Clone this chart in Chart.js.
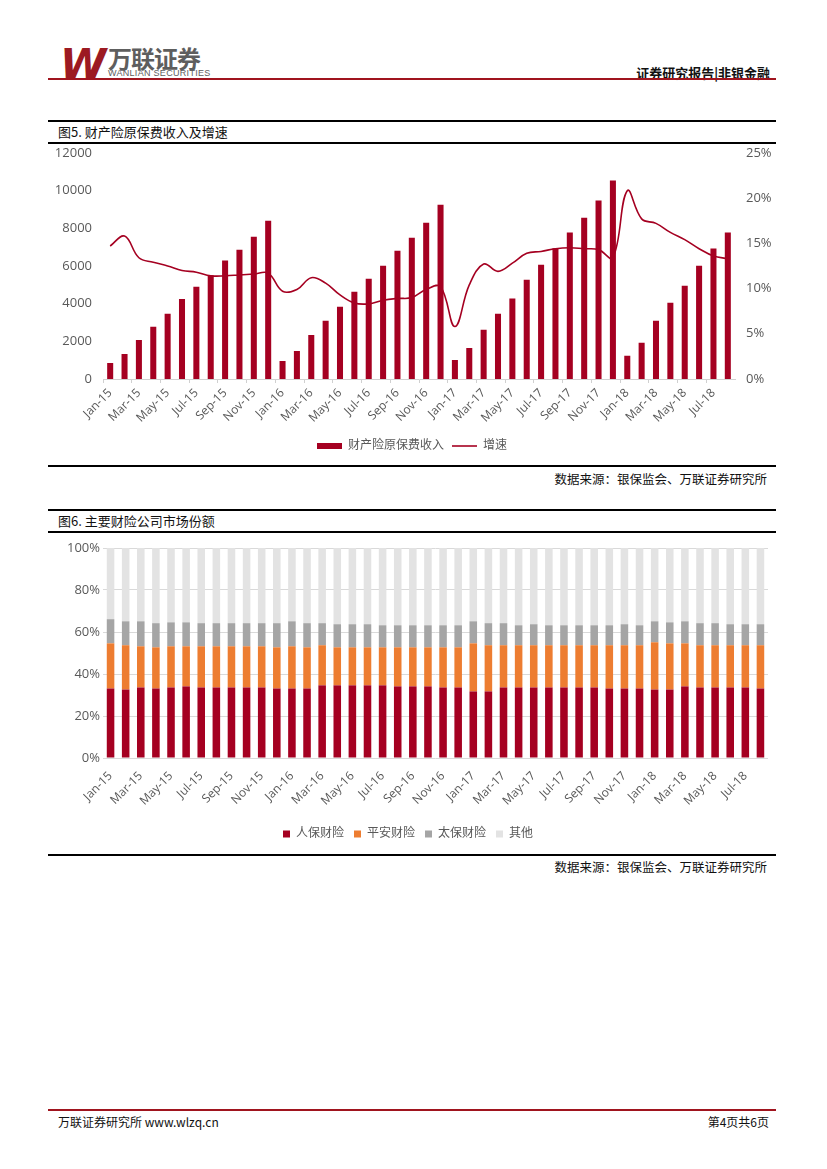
<!DOCTYPE html>
<html lang="zh">
<head>
    <meta charset="UTF-8">
    <title>财产险原保费收入及增速</title>
    <style>
        body {
            margin: 0;
            background: #fff;
            font-family: "Noto Sans CJK SC", sans-serif;
        }
        .page { position: relative; width: 827px; height: 1169px; }
        .abs { position: absolute; line-height: 1; }
        .rule { position: absolute; left: 48px; width: 728px; background: #000; }
        .title { position: absolute; left: 58px; font-size: 13px; color: #111; line-height: 14px; }
        .source { position: absolute; right: 60px; font-size: 12.5px; color: #111; }
        .chartbox { position: absolute; left: 48px; width: 728px; }
    </style>
    <script src="https://cdn.jsdelivr.net/npm/chart.js"></script>
</head>
<body>
<div class="page">
    <!-- header -->
    <div class="abs" style="left:60px;top:40px;font:italic 900 42px 'DejaVu Sans';color:#9c1a22;letter-spacing:-6px;">W</div>
    <div class="abs" style="left:108px;top:40px;font:bold 24px 'Noto Sans CJK SC';color:#5e5e5e;letter-spacing:-1px;">万联证券</div>
    <div class="abs" style="left:108px;top:68px;font:9px 'Liberation Sans';color:#5e5e5e;letter-spacing:0.3px;">WANLIAN SECURITIES</div>
    <div class="abs" style="right:57px;top:63px;font:bold 13px 'Noto Sans CJK SC';color:#111;">证券研究报告|非银金融</div>
    <div class="abs" style="left:48px;top:78px;width:728px;height:2px;background:#a0141e;"></div>

    <!-- figure 5 -->
    <div class="rule" style="top:120px;height:2px;"></div>
    <div class="title" style="top:125px;">图5. 财产险原保费收入及增速</div>
    <div class="rule" style="top:142px;height:2px;"></div>
    <div class="chartbox" style="top:142px;height:324px;"><canvas id="premiumChart"></canvas></div>
    <div class="rule" style="top:465px;height:2px;"></div>
    <div class="source" style="top:469px;">数据来源：银保监会、万联证券研究所</div>

    <!-- figure 6 -->
    <div class="rule" style="top:509px;height:2px;"></div>
    <div class="title" style="top:514px;">图6. 主要财险公司市场份额</div>
    <div class="rule" style="top:531px;height:2px;"></div>
    <div class="chartbox" style="top:536px;height:318px;"><canvas id="shareChart"></canvas></div>
    <div class="rule" style="top:854px;height:2px;"></div>
    <div class="source" style="top:857px;">数据来源：银保监会、万联证券研究所</div>

    <!-- footer -->
    <div class="abs" style="left:48px;top:1109px;width:728px;height:2px;background:#a0141e;"></div>
    <div class="abs" style="left:58px;top:1116px;font-size:12px;color:#111;">万联证券研究所 www.wlzq.cn</div>
    <div class="abs" style="right:58px;top:1116px;font-size:12px;color:#111;">第4页共6页</div>
</div>

<script>
    const months = [
        'Jan-15', 'Feb-15', 'Mar-15', 'Apr-15', 'May-15', 'Jun-15', 'Jul-15', 'Aug-15', 'Sep-15', 'Oct-15', 'Nov-15', 'Dec-15',
        'Jan-16', 'Feb-16', 'Mar-16', 'Apr-16', 'May-16', 'Jun-16', 'Jul-16', 'Aug-16', 'Sep-16', 'Oct-16', 'Nov-16', 'Dec-16',
        'Jan-17', 'Feb-17', 'Mar-17', 'Apr-17', 'May-17', 'Jun-17', 'Jul-17', 'Aug-17', 'Sep-17', 'Oct-17', 'Nov-17', 'Dec-17',
        'Jan-18', 'Feb-18', 'Mar-18', 'Apr-18', 'May-18', 'Jun-18', 'Jul-18', 'Aug-18'
    ];

    // 财产险原保费收入 (亿元, 累计)
    const premium = [
        850, 1330, 2070, 2770, 3460, 4250, 4890, 5510, 6280, 6860, 7550, 8400,
        960, 1490, 2340, 3090, 3830, 4630, 5320, 6010, 6810, 7500, 8290, 9250,
        1010, 1650, 2610, 3460, 4270, 5270, 6060, 6930, 7770, 8560, 9470, 10530,
        1240, 1920, 3090, 4040, 4950, 6010, 6920, 7770
    ];

    // 增速 (%)
    const growth = [
        14.7, 15.8, 13.4, 12.9, 12.5, 12.0, 11.8, 11.4, 11.4, 11.5, 11.6, 11.7,
        9.7, 9.9, 11.2, 10.6, 9.3, 8.4, 8.3, 8.7, 8.9, 9.0, 9.9, 10.2,
        5.8, 10.4, 12.7, 11.9, 12.8, 13.9, 14.1, 14.4, 14.5, 14.4, 14.3, 13.4,
        20.8, 17.7, 17.2, 16.2, 15.4, 14.4, 13.6, 13.3
    ];

    // 市场份额 (%)
    const picc = [
        33.1, 32.6, 33.6, 33.1, 33.6, 34.1, 33.6, 33.6, 33.6, 33.6, 33.6, 33.1,
        33.1, 33.1, 34.6, 34.6, 34.6, 34.6, 34.6, 34.1, 34.1, 34.1, 33.6, 33.6,
        31.7, 31.7, 33.6, 33.6, 33.6, 33.6, 33.6, 33.6, 33.6, 33.1, 33.1, 33.1,
        32.6, 32.6, 34.1, 33.6, 33.6, 33.6, 33.6, 33.1
    ];
    const pingan = [
        21.5, 21.1, 19.6, 19.6, 19.6, 19.1, 19.6, 19.6, 19.6, 19.6, 19.6, 19.6,
        20.1, 19.6, 19.1, 18.1, 18.1, 18.1, 18.1, 18.6, 18.6, 18.6, 19.1, 19.1,
        22.9, 22.0, 20.1, 20.1, 20.1, 20.1, 20.1, 20.1, 20.1, 20.6, 20.6, 20.6,
        22.5, 22.0, 20.5, 20.1, 20.1, 20.1, 20.1, 20.6
    ];
    const cpic = [
        11.5, 11.4, 11.9, 11.5, 11.4, 11.4, 11.0, 11.0, 11.0, 11.0, 11.0, 11.5,
        11.9, 11.5, 10.5, 11.0, 11.0, 11.0, 10.5, 10.5, 10.5, 10.5, 10.5, 10.5,
        10.5, 10.5, 10.5, 9.5, 10.0, 9.5, 9.5, 9.5, 9.5, 9.5, 10.0, 9.5,
        10.0, 10.0, 10.5, 10.5, 10.5, 10.0, 10.0, 10.0
    ];
    const others = [
        33.9, 34.9, 34.9, 35.8, 35.4, 35.4, 35.8, 35.8, 35.8, 35.8, 35.8, 35.8,
        34.9, 35.8, 35.8, 36.3, 36.3, 36.3, 36.8, 36.8, 36.8, 36.8, 36.8, 36.8,
        34.9, 35.8, 35.8, 36.8, 36.3, 36.8, 36.8, 36.8, 36.8, 36.8, 36.3, 36.8,
        34.9, 35.4, 34.9, 35.8, 35.8, 36.3, 36.3, 36.3
    ];

    const RED = '#a50021';
    const AXIS_TEXT = '#595959';
    const FONT = "'Open Sans', 'Noto Sans CJK SC', sans-serif";

    const everyOther = (val, i) => (i % 2 === 0 ? months[i] : '');

    new Chart(document.getElementById('premiumChart'), {
        data: {
            labels: months,
            datasets: [{
                type: 'bar',
                label: '财产险原保费收入',
                data: premium,
                backgroundColor: RED,
                barPercentage: 0.42,
                categoryPercentage: 1,
                yAxisID: 'y',
                order: 2,
                pointStyle: 'rect'
            }, {
                type: 'line',
                label: '增速',
                data: growth,
                borderColor: RED,
                backgroundColor: RED,
                borderWidth: 1.6,
                pointRadius: 0,
                tension: 0.4,
                yAxisID: 'y1',
                order: 1,
                pointStyle: 'line'
            }]
        },
        options: {
            animation: false,
            responsive: true,
            maintainAspectRatio: false,
            layout: { padding: { top: 0, bottom: 4 } },
            scales: {
                x: {
                    offset: true,
                    grid: {
                        offset: true,
                        drawOnChartArea: false,
                        tickLength: 4,
                        color: ctx => (ctx.index % 2 === 0 ? '#d0d0d0' : 'rgba(0,0,0,0)')
                    },
                    border: { color: '#d0d0d0' },
                    ticks: {
                        autoSkip: false,
                        minRotation: 45,
                        maxRotation: 45,
                        color: AXIS_TEXT,
                        font: { family: FONT, size: 12 },
                        callback: everyOther
                    },
                    afterFit: s => { s.height = 53; }
                },
                y: {
                    position: 'left',
                    min: 0,
                    max: 12000,
                    ticks: { stepSize: 2000, color: AXIS_TEXT, font: { family: FONT, size: 13 }, callback: v => String(v) },
                    grid: { display: false },
                    border: { display: false },
                    afterFit: s => { s.width = 55; }
                },
                y1: {
                    position: 'right',
                    min: 0,
                    max: 25,
                    ticks: { stepSize: 5, color: AXIS_TEXT, font: { family: FONT, size: 13 }, callback: v => v + '%' },
                    grid: { display: false },
                    border: { display: false },
                    afterFit: s => { s.width = 41; }
                }
            },
            plugins: {
                legend: {
                    position: 'bottom',
                    labels: {
                        usePointStyle: true,
                        pointStyleWidth: 25,
                        boxHeight: 6,
                        boxWidth: 25,
                        padding: 8,
                        color: AXIS_TEXT,
                        font: { family: FONT, size: 12 },
                        sort: (a, b) => a.datasetIndex - b.datasetIndex
                    }
                },
                tooltip: { enabled: false }
            }
        }
    });

    new Chart(document.getElementById('shareChart'), {
        type: 'bar',
        data: {
            labels: months,
            datasets: [
                { label: '人保财险', data: picc, backgroundColor: RED },
                { label: '平安财险', data: pingan, backgroundColor: '#ed7d31' },
                { label: '太保财险', data: cpic, backgroundColor: '#a5a5a5' },
                { label: '其他', data: others, backgroundColor: '#e3e3e3' }
            ]
        },
        options: {
            animation: false,
            responsive: true,
            maintainAspectRatio: false,
            layout: { padding: { top: 12, right: 8, bottom: 4 } },
            datasets: { bar: { barPercentage: 0.5, categoryPercentage: 1, pointStyle: 'rect' } },
            scales: {
                x: {
                    stacked: true,
                    grid: { display: false },
                    border: { display: false },
                    ticks: {
                        autoSkip: false,
                        minRotation: 45,
                        maxRotation: 45,
                        color: AXIS_TEXT,
                        font: { family: FONT, size: 12 },
                        callback: everyOther
                    },
                    afterFit: s => { s.height = 60; }
                },
                y: {
                    stacked: true,
                    min: 0,
                    max: 100,
                    ticks: { stepSize: 20, color: AXIS_TEXT, font: { family: FONT, size: 13 }, callback: v => v + '%' },
                    grid: { color: '#d9d9d9', drawTicks: false },
                    border: { display: false },
                    afterFit: s => { s.width = 55; }
                }
            },
            plugins: {
                legend: {
                    position: 'bottom',
                    labels: {
                        usePointStyle: true,
                        pointStyleWidth: 7,
                        boxHeight: 7,
                        boxWidth: 7,
                        padding: 10,
                        color: AXIS_TEXT,
                        font: { family: FONT, size: 12 }
                    }
                },
                tooltip: { enabled: false }
            }
        }
    });
</script>
</body>
</html>
